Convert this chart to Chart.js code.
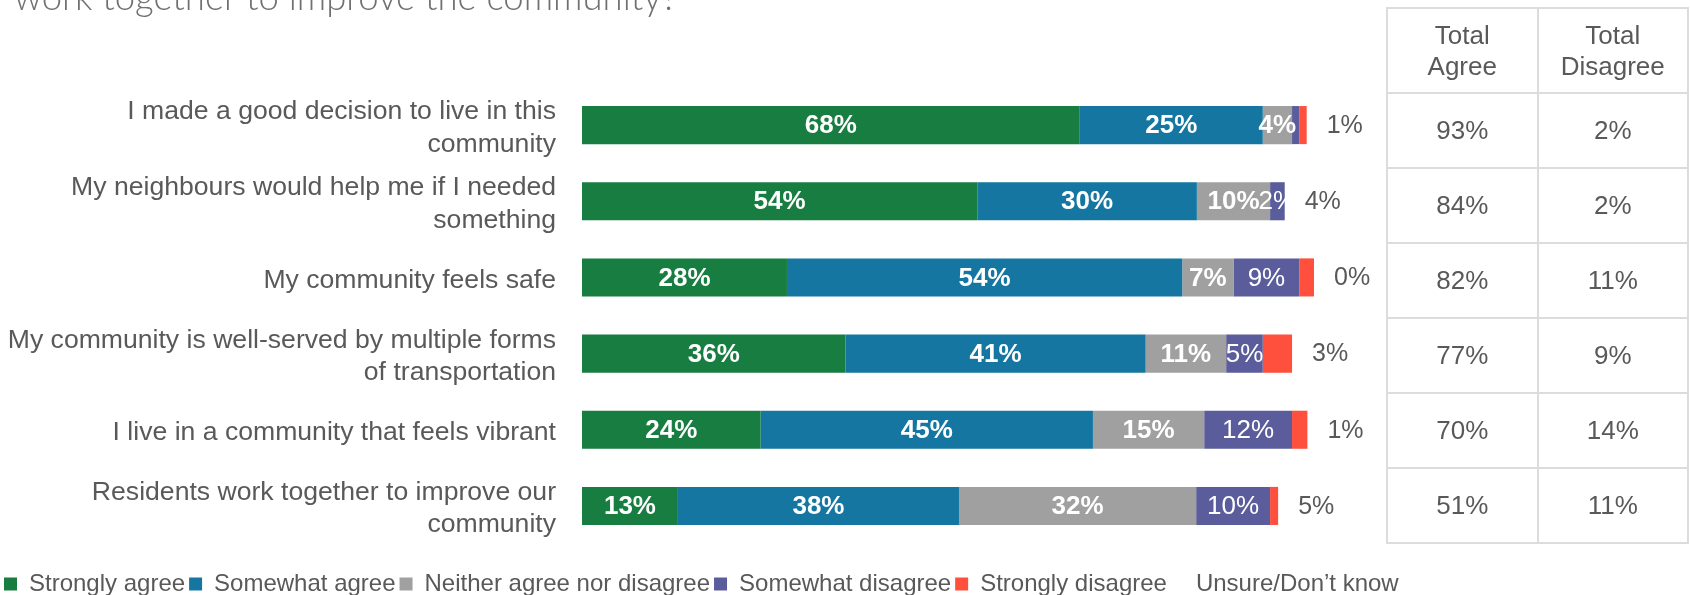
<!DOCTYPE html>
<html><head><meta charset="utf-8">
<script src="https://cdn.jsdelivr.net/npm/chart.js@4/dist/chart.umd.min.js"></script>
<style>
html,body{margin:0;padding:0;background:#fff;overflow:hidden;}
#wrap{position:relative;width:1690px;height:595px;overflow:hidden;background:#fff;}
#c{display:block;position:absolute;left:0;top:0;}
#title{position:absolute;left:14px;top:-22px;font-family:Lato,'Open Sans',sans-serif;font-weight:300;font-size:36.5px;line-height:37px;color:#707070;white-space:nowrap;}
#tbl{position:absolute;left:1386px;top:7px;width:303px;height:536px;border-collapse:collapse;font-family:'Liberation Sans',Arial,sans-serif;font-size:26px;color:#595959;table-layout:fixed;}
#tbl td,#tbl th{border:2px solid #dcdcdc;text-align:center;vertical-align:middle;font-weight:normal;padding:0;}
#tbl th{line-height:31px;height:82px;padding-top:1px;}
#tbl td{height:73px;}
</style></head><body>
<div id="wrap">
<canvas id="c" width="1690" height="606"></canvas>
<div id="title">work together to improve the community?</div>
<table id="tbl"></table>
</div>
<script>
const categories = [
  ["I made a good decision to live in this", "community"],
  ["My neighbours would help me if I needed", "something"],
  "My community feels safe",
  ["My community is well-served by multiple forms", "of transportation"],
  "I live in a community that feels vibrant",
  ["Residents work together to improve our", "community"]
];
const seriesNames = ["Strongly agree", "Somewhat agree", "Neither agree nor disagree", "Somewhat disagree", "Strongly disagree", "Unsure/Don\u2019t know"];
const stronglyAgree    = [68, 54, 28, 36, 24.4, 13.1];
const somewhatAgree    = [25, 30, 54, 41, 45.4, 38.4];
const neither          = [4, 10, 7, 11, 15.2, 32.4];
const somewhatDisagree = [1, 2, 9, 5, 12, 10.1];
const stronglyDisagree = [1, 0, 2, 4, 2.1, 1.1];
const unsure           = [1, 4, 0, 3, 1, 5];
const tableHeaders = [["Total", "Agree"], ["Total", "Disagree"]];
const totalAgree    = [93, 84, 82, 77, 70, 51];
const totalDisagree = [2, 2, 11, 9, 14, 11];

const colors = ['#187D40', '#1577A1', '#A0A0A0', '#5A5C9B', '#FF503D', 'rgba(0,0,0,0)'];
const FONT = "'Liberation Sans', Arial, sans-serif";
const TEXT = '#595959';

// table
const tbl = document.getElementById('tbl');
let html = '<tr>' + tableHeaders.map(h => '<th>' + h.join('<br>') + '</th>').join('') + '</tr>';
for (let i = 0; i < categories.length; i++) {
  html += '<tr><td>' + totalAgree[i] + '%</td><td>' + totalDisagree[i] + '%</td></tr>';
}
tbl.innerHTML = html;

const values = [stronglyAgree, somewhatAgree, neither, somewhatDisagree, stronglyDisagree, unsure];
const datasets = values.map((d, i) => ({
  label: seriesNames[i],
  data: d,
  backgroundColor: colors[i],
  borderWidth: 0,
  barPercentage: 0.5,
  categoryPercentage: 1.0
}));

const labelPlugin = {
  id: 'segLabels',
  afterDatasetsDraw(chart) {
    const ctx = chart.ctx;
    chart.data.datasets.forEach((ds, di) => {
      const meta = chart.getDatasetMeta(di);
      meta.data.forEach((bar, i) => {
        const v = ds.data[i];
        ctx.save();
        ctx.textBaseline = 'middle';
        if (di === 5) {
          ctx.font = '25px ' + FONT;
          ctx.fillStyle = TEXT;
          ctx.textAlign = 'left';
          ctx.fillText(Math.round(v) + '%', bar.base + 20, bar.y + 1);
        } else if (di <= 3 && v >= 1.5) {
          ctx.font = (di === 3 ? '' : 'bold ') + '26px ' + FONT;
          ctx.fillStyle = '#ffffff';
          ctx.textAlign = 'center';
          ctx.fillText(Math.round(v) + '%', (bar.x + bar.base) / 2, bar.y + 1);
        }
        ctx.restore();
      });
    });
  }
};

new Chart(document.getElementById('c'), {
  type: 'bar',
  data: { labels: categories, datasets: datasets },
  options: {
    responsive: false,
    animation: false,
    devicePixelRatio: 1,
    indexAxis: 'y',
    layout: { padding: { top: 87, left: 0, right: 0, bottom: 0 } },
    scales: {
      x: { stacked: true, min: 0, max: 100, display: false },
      y: {
        stacked: true,
        grid: { display: false },
        border: { display: false },
        ticks: { padding: 18, labelOffset: 3, color: TEXT, font: { family: FONT, size: 26.6, lineHeight: 1.22 } },
        afterFit(s) { s.width = 582; }
      },
      yR: {
        type: 'category',
        position: 'right',
        display: true,
        grid: { display: false },
        border: { display: false },
        ticks: { display: false },
        afterFit(s) { s.width = 376; }
      }
    },
    plugins: {
      tooltip: { enabled: false },
      legend: {
        position: 'bottom',
        align: 'start',
        title: { display: true, text: ' ', font: { size: 12, lineHeight: 1 }, padding: 6 },
        labels: { boxWidth: 13, boxHeight: 13, padding: 4, color: TEXT, font: { family: FONT, size: 24 } }
      }
    }
  },
  plugins: [labelPlugin]
});
</script>
</body></html>
